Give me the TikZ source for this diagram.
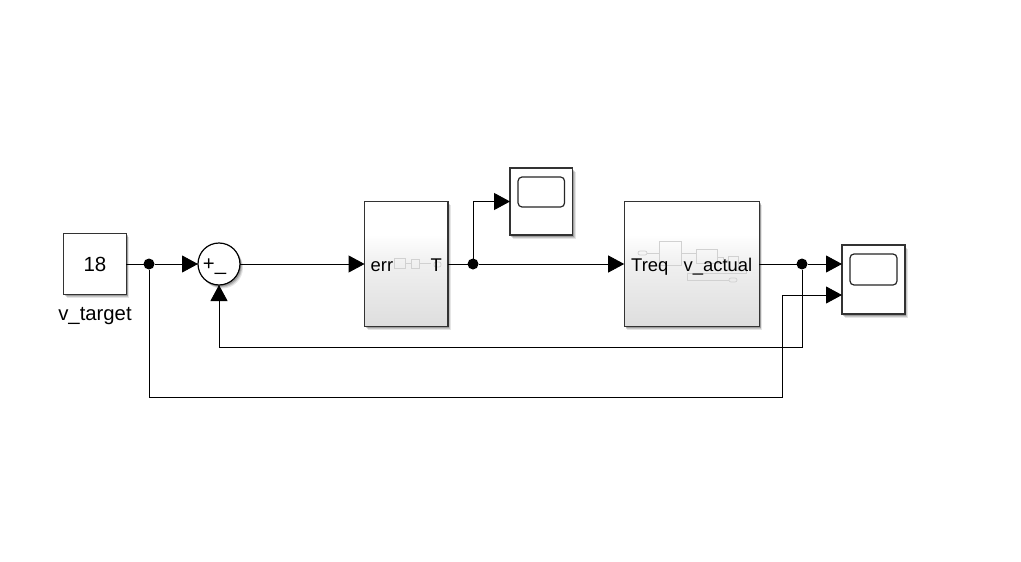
\documentclass[tikz,border=0pt]{standalone}
\usepackage{fontspec}
\setmainfont{Liberation Sans}
\usetikzlibrary{arrows.meta,calc}
\definecolor{ghost}{gray}{0.82}
\pgfdeclareverticalshading{blockshade}{100bp}{color(0bp)=(black!13);color(25bp)=(black!13);color(50bp)=(black!6);color(62bp)=(white);color(75bp)=(white);color(100bp)=(white)}
\tikzset{
  softshadow/.style={
    preaction={draw=none,fill=black,opacity=.10,transform canvas={xshift=3pt,yshift=-3.6pt}},
    preaction={draw=none,fill=black,opacity=.14,transform canvas={xshift=2.2pt,yshift=-2.6pt}},
    preaction={draw=none,fill=black,opacity=.20,transform canvas={xshift=1.4pt,yshift=-1.7pt}}},
  blockbase/.style={rectangle,draw=black!80,line width=1.4pt,inner sep=0pt,outer sep=0pt,fill=white,softshadow},
  plain/.style={blockbase,font=\fontsize{20.5}{20.5}\selectfont},
  subsys/.style={blockbase,shading=blockshade,shading angle=0},
  screen/.style={rectangle,rounded corners=4pt,draw=black!85,line width=1.2pt,inner sep=0pt,fill=white},
  sumblock/.style={circle,draw=black,line width=1.2pt,fill=white,inner sep=0pt,outer sep=0pt,minimum size=42pt,softshadow},
  dot/.style={circle,fill=black,inner sep=0pt,outer sep=0pt,minimum size=11pt},
  wire/.style={line width=.9pt,black},
  sig/.style={wire,-{Triangle[length=16pt,width=17pt]}},
  port/.style={inner sep=0pt,anchor=base west,font=\fontsize{18.4}{18.4}\selectfont},
  lab/.style={inner sep=0pt,font=\fontsize{20.3}{20.3}\selectfont},
  gh/.style={draw=ghost,line width=.7pt},
  ghr/.style={gh,rounded corners=2pt},
}
\begin{document}
\begin{tikzpicture}[x=1pt,y=-1pt]
\useasboundingbox (0,0) rectangle (1021,562);
% blocks
\node[plain,minimum width=62.5pt,minimum height=61.5pt] (const) at (95,264) {18};
\node[lab,anchor=base] (clabel) at (95,320) {v\_target};
\node[sumblock] (sum) at (219,264) {};
\node[lab,anchor=base] (sumtxt) at (214.5,270.7) {+\_};
\node[subsys,minimum width=83.5pt,minimum height=124.5pt] (ctrl) at (406.3,264) {};
\node[subsys,minimum width=135pt,minimum height=124.5pt] (veh) at (691.7,264) {};
\node[blockbase,minimum width=62.5pt,minimum height=67pt] (sc1) at (541.3,201.5) {};
\node[screen,minimum width=46.5pt,minimum height=30pt] (sc1s) at (541.3,192) {};
\node[blockbase,minimum width=63pt,minimum height=69pt] (sc2) at (873.5,279.5) {};
\node[screen,minimum width=47pt,minimum height=31pt] (sc2s) at (873.5,269.5) {};
% faint contents of the subsystems
\draw[gh] (394,258) rectangle (405,268) (411,259) rectangle (419,268);
\draw[gh] (405,263.5) -- (411,263.5) (419,263.5) -- (431,263.5);
\draw[ghr] (434,262) rectangle (441,267);
\draw[ghr] (638,251) rectangle (647,255);
\draw[gh] (659,241) rectangle (681,265) (696,249) rectangle (717,263) (717,257) rectangle (723,263) (728,256) rectangle (738,270);
\draw[gh] (647,253) -- (659,253) (681,253) -- (696,253) (723,260) -- (728,260);
\draw[gh] (687,273) -- (746,273) -- (746,268) (687,273) -- (687,280) -- (729,280);
\draw[ghr] (729,278) rectangle (737,282);
% port labels
\node[port] (perr) at (370.5,271) {err};
\node[port] (pt) at (430.5,271) {T};
\node[port] (ptreq) at (631,271) {Treq};
\node[port] (pact) at (683.5,271) {v\_actual};
% junctions and corners
\node[dot] (j1) at (149,264) {};
\node[dot] (j2) at (473,264) {};
\node[dot] (j3) at (802,264) {};
\coordinate (c1) at (149,397);
\coordinate (c2) at (782,397);
\coordinate (c3) at (782,295);
\coordinate (c4) at (802,347.5);
\coordinate (c5) at (219,347.5);
\coordinate (c6) at (473,201.5);
% connectors
\draw[wire] (const) -- (j1);
\draw[sig] (j1) -- (sum);
\draw[sig] (sum) -- (ctrl);
\draw[wire] (ctrl) -- (j2);
\draw[sig] (j2) -- (veh);
\draw[sig] (j2) -- (c6) -- (sc1.west);
\draw[wire] (veh) -- (j3);
\draw[sig] (j3) -- (sc2.west |- j3);
\draw[sig] (j3) -- (c4) -- (c5) -- (sum);
\draw[sig] (j1) -- (c1) -- (c2) -- (c3) -- (sc2.west |- c3);
\end{tikzpicture}
\end{document}
